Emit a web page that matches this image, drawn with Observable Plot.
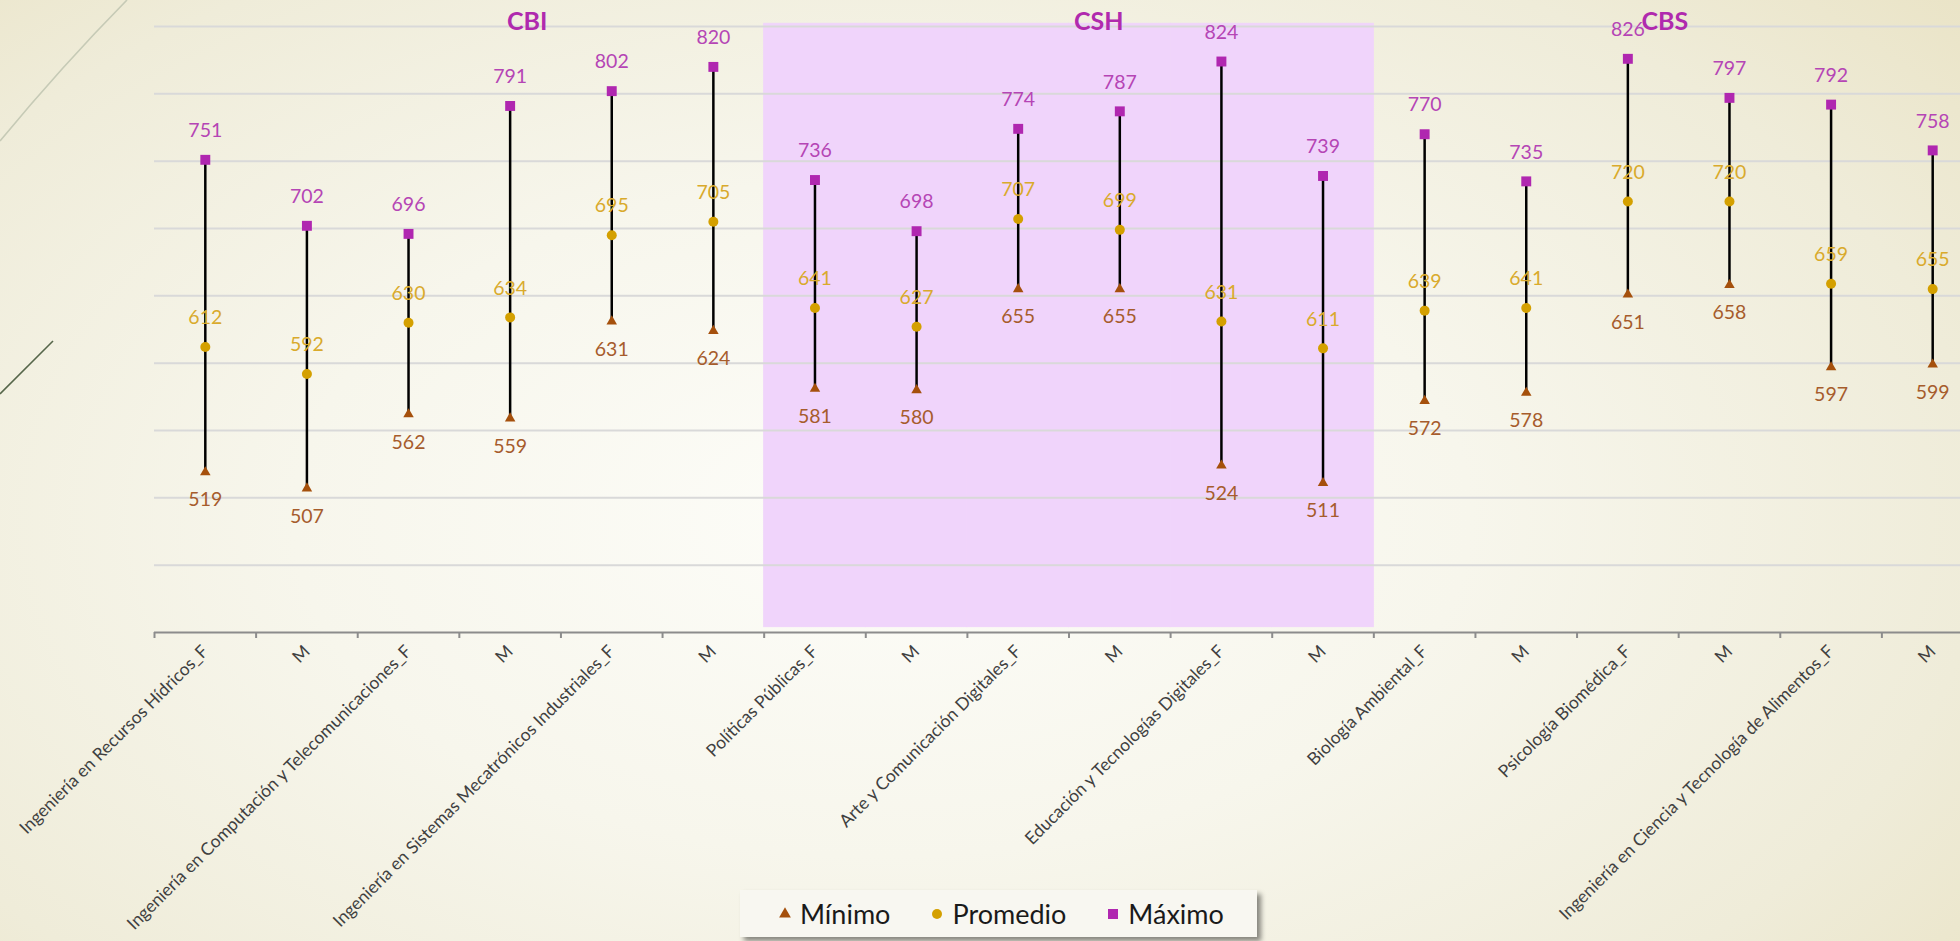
<!DOCTYPE html>
<html>
<head>
<meta charset="utf-8">
<script src="https://cdn.jsdelivr.net/npm/d3@7"></script>
<script src="https://cdn.jsdelivr.net/npm/@observablehq/plot@0.6"></script>
<style>
html, body { margin: 0; padding: 0; width: 1960px; height: 941px; overflow: hidden; }
body {
  position: relative;
  font-family: Lato, "Open Sans", sans-serif;
  background: radial-gradient(ellipse 75% 90% at 45% 55%, #fdfdf9 0%, #f7f6ec 40%, #efecd9 75%, #e9e2c3 100%);
}
#deco { position: absolute; left: 0; top: 0; }
#chart { position: absolute; left: 0; top: 0; width: 1984px; }
#chart svg { max-width: none !important; }
#legend {
  position: absolute; left: 740px; top: 890px; width: 517px; height: 47px;
  background: #f8f7f1; box-shadow: 4px 4px 5px rgba(0,0,0,0.45);
  display: flex; align-items: center; font-size: 27px; color: #1a1a1a;
  box-sizing: border-box; padding-left: 38px;
}
#legend .item { display: flex; align-items: center; }
#legend .item svg { margin-right: 8px; }
#legend .item + .item { margin-left: 40px; }
</style>
</head>
<body>
<svg id="deco" width="200" height="420">
  <path d="M0,141 Q62,66 127,0" fill="none" stroke="#c6cab6" stroke-width="1.6"/>
  <line x1="0" y1="394" x2="53" y2="341" stroke="#56664a" stroke-width="1.6"/>
</svg>
<div id="chart"></div>
<div id="legend"></div>
<script>
const programas = [
  "Ingeniería en Recursos Hídricos_F", "M",
  "Ingeniería en Computación y Telecomunicaciones_F", "M",
  "Ingeniería en Sistemas Mecatrónicos Industriales_F", "M",
  "Políticas Públicas_F", "M",
  "Arte y Comunicación Digitales_F", "M",
  "Educación y Tecnologías Digitales_F", "M",
  "Biología Ambiental_F", "M",
  "Psicología Biomédica_F", "M",
  "Ingeniería en Ciencia y Tecnología de Alimentos_F", "M"
];
const minimo   = [519, 507, 562, 559, 631, 624, 581, 580, 655, 655, 524, 511, 572, 578, 651, 658, 597, 599];
const promedio = [612, 592, 630, 634, 695, 705, 641, 627, 707, 699, 631, 611, 639, 641, 720, 720, 659, 655];
const maximo   = [751, 702, 696, 791, 802, 820, 736, 698, 774, 787, 824, 739, 770, 735, 826, 797, 792, 758];
const grupos = ["CBI", "CSH", "CBS"];
const grupoPrograma = [3, 9, 14];
const cshProgramas = [6, 7, 8, 9, 10, 11];
const yDomain = [400, 850];
const gridValues = [450, 500, 550, 600, 650, 700, 750, 800, 850];
const series = ["Mínimo", "Promedio", "Máximo"];

const colors = {
  minMark: "#a5500c", minText: "#a65c2c",
  avgMark: "#d4a000", avgText: "#d9aa2c",
  maxMark: "#b027b0", maxText: "#b545b5",
  group: "#b02aae"
};

const n = programas.length;
const rows = programas.map((p, i) => ({i, p, min: minimo[i], avg: promedio[i], max: maximo[i]}));
const W = 1984, H = 941, ML = 154, MR = 1, MT = 26, MB = 309;
const bw = (W - ML - MR) / n;
const pxPerUnit = (H - MT - MB) / (yDomain[1] - yDomain[0]);
const groupDx = [17, -21, 37];
const font = "Lato, 'Open Sans', sans-serif";

const chart = Plot.plot({
  width: W, height: H,
  marginLeft: ML, marginRight: MR, marginTop: MT, marginBottom: MB,
  style: {background: "transparent", fontFamily: font, overflow: "visible", maxWidth: "none"},
  x: {type: "band", domain: d3.range(n), padding: 0, round: false},
  y: {domain: yDomain, axis: null},
  marks: [
    Plot.barY(cshProgramas, {x: d => d, y1: 404, y2: 852, fill: "#f0d4fb", stroke: "#f0d4fb", strokeWidth: 1, inset: 0}),
    Plot.ruleY(gridValues, {stroke: "#d9d9d9", strokeWidth: 2}),
    Plot.ruleY([yDomain[0]], {stroke: "#8c8c8c", strokeWidth: 2}),
    Plot.ruleX(d3.range(n), {x: d => d, dx: -bw / 2, y1: yDomain[0], y2: yDomain[0] - 6 / pxPerUnit, stroke: "#8c8c8c", strokeWidth: 2}),
    Plot.axisX({tickSize: 0, tickPadding: 16, tickRotate: -45, tickFormat: i => programas[i], fontSize: 17.5, fill: "#404040", label: null}),
    Plot.ruleX(rows, {x: "i", y1: "min", y2: "max", stroke: "#000", strokeWidth: 2.5}),
    Plot.dot(rows, {x: "i", y: "min", symbol: "triangle", r: 3.9, fill: colors.minMark}),
    Plot.dot(rows, {x: "i", y: "avg", symbol: "circle", r: 5, fill: colors.avgMark}),
    Plot.dot(rows, {x: "i", y: "max", symbol: "square", r: 5.6, fill: colors.maxMark}),
    Plot.text(rows, {x: "i", y: "max", text: d => String(d.max), dy: -29, fill: colors.maxText, fontSize: 19.5}),
    Plot.text(rows, {x: "i", y: "avg", text: d => String(d.avg), dy: -29, fill: colors.avgText, fontSize: 19.5}),
    Plot.text(rows, {x: "i", y: "min", text: d => String(d.min), dy: 28, fill: colors.minText, fontSize: 19.5}),
    ...grupos.map((g, k) => Plot.text([g], {x: () => grupoPrograma[k], y: () => 853, text: d => d, dx: groupDx[k], fill: colors.group, fontSize: 25, fontWeight: "bold"}))
  ]
});
document.getElementById("chart").appendChild(chart);

// Legend
const legendSymbols = [
  {sym: d3.symbolTriangle, size: 60, color: colors.minMark},
  {sym: d3.symbolCircle, size: 78, color: colors.avgMark},
  {sym: d3.symbolSquare, size: 100, color: colors.maxMark}
];
const legend = d3.select("#legend");
series.forEach((s, k) => {
  const item = legend.append("div").attr("class", "item");
  const svg = item.append("svg").attr("width", 14).attr("height", 14);
  svg.append("path")
    .attr("transform", "translate(7,7)")
    .attr("d", d3.symbol(legendSymbols[k].sym, legendSymbols[k].size)())
    .attr("fill", legendSymbols[k].color);
  item.append("span").text(s);
});
</script>
</body>
</html>
